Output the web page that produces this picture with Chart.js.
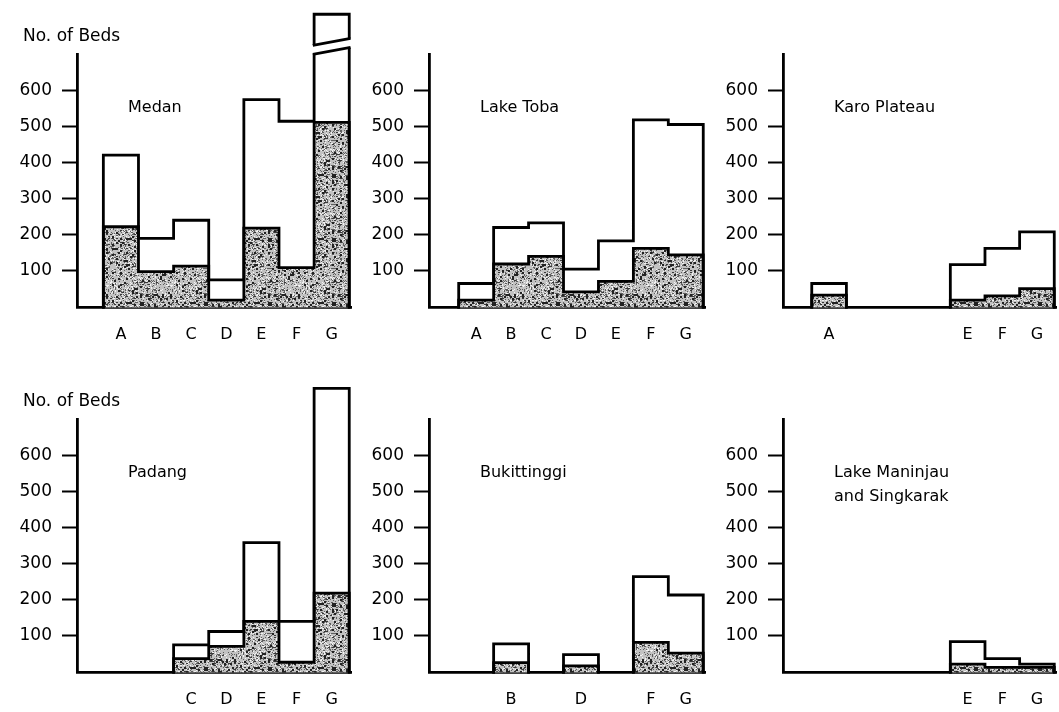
<!DOCTYPE html>
<html><head><meta charset="utf-8">
<script src="https://cdn.jsdelivr.net/npm/chart.js@4.4.1/dist/chart.umd.min.js"></script>
<style>
html,body{margin:0;padding:0;background:#fff;width:1059px;height:712px;overflow:hidden;position:relative}
canvas{position:absolute}
</style></head><body>
<script>
const categories = ['A','B','C','D','E','F','G'];
const yTickValues = [100,200,300,400,500,600];

const medanTotal    = [420, 190, 240, 75, 574, 514, 810];
const medanShaded   = [222, 98, 113, 19, 218, 109, 511];
const tobaTotal     = [65, 220, 233, 105, 183, 518, 505];
const tobaShaded    = [19, 119, 140, 42, 71, 162, 144];
const karoTotal     = [65, null, null, null, 117, 162, 208];
const karoShaded    = [33, null, null, null, 19, 31, 51];
const padangTotal   = [null, null, 75, 112, 358, 140, 785];
const padangShaded  = [null, null, 37, 71, 140, 27, 218];
const bukitTotal    = [null, 78, null, 48, null, 264, 213];
const bukitShaded   = [null, 26, null, 17, null, 82, 52];
const maninjauTotal = [null, null, null, null, 84, 37, 22];
const maninjauShaded= [null, null, null, null, 22, 13, 13];

const FONT = '"DejaVu Sans", sans-serif';
const cols = [{left:77,right:351,xMin:-1.25},{left:429,right:705,xMin:-1.35},{left:783,right:1056,xMin:-1.33}];
const rows = [{top:54,bottom:307},{top:419,bottom:672}];
const PADT = 50, AXW = 75, AXH = 45, PADR = 6;
const LW = 2.8;

const panels = [
  {title:['Medan'], total:medanTotal, shaded:medanShaded, col:0, row:0, yLabel:true, brk:true},
  {title:['Lake Toba'], total:tobaTotal, shaded:tobaShaded, col:1, row:0},
  {title:['Karo Plateau'], total:karoTotal, shaded:karoShaded, col:2, row:0},
  {title:['Padang'], total:padangTotal, shaded:padangShaded, col:0, row:1, yLabel:true},
  {title:['Bukittinggi'], total:bukitTotal, shaded:bukitShaded, col:1, row:1},
  {title:['Lake Maninjau','and Singkarak'], total:maninjauTotal, shaded:maninjauShaded, col:2, row:1}
];

function hash(x, y, s){
  let n = Math.imul(x, 374761393) + Math.imul(y, 668265263) + Math.imul(s, 2246822519);
  n = Math.imul(n ^ (n >>> 13), 1274126177);
  n = (n ^ (n >>> 16)) >>> 0;
  return (n % 1000) / 1000;
}
function makePattern(){
  const c = document.createElement('canvas');
  c.width = 64; c.height = 64;
  const g = c.getContext('2d');
  g.fillStyle = '#c2c2c2'; g.fillRect(0,0,64,64);
  for (let y=0;y<64;y++) for (let x=0;x<64;x++){
    const h = hash(x, y, 1);
    let col = null;
    if (h < 0.20) col = '#5e5e5e';
    else if (h > 0.88) col = '#f2f2f2';
    if (col){ g.fillStyle = col; g.fillRect(x,y,1,1); }
  }
  for (let y=0;y<64;y+=2) for (let x=0;x<64;x+=2){
    const h = hash(x, y, 7);
    if (h < 0.12){ g.fillStyle = '#222'; g.fillRect(x,y,2,2); }
    else if (h < 0.19){ g.fillStyle = '#383838'; g.fillRect(x,y,2,1); }
  }
  return g.createPattern(c, 'repeat');
}
const shadePattern = makePattern();

function barData(arr){
  const out = [];
  arr.forEach((v,i)=>{ if (v !== null) out.push({x:i, y:v}); });
  return out;
}
// step outline of each run of consecutive bars; runs are separated by a gap point
function outline(arr){
  const pts = [];
  let i = 0;
  while (i < arr.length){
    if (arr[i] === null){ i++; continue; }
    let j = i;
    while (j + 1 < arr.length && arr[j+1] !== null) j++;
    pts.push({x:i-0.5, y:0});
    for (let k=i;k<=j;k++) pts.push({x:k-0.5, y:arr[k]});
    pts.push({x:j+0.5, y:arr[j]});
    pts.push({x:j+0.5, y:0});
    pts.push({x:j+0.5, y:null});
    i = j + 1;
  }
  return pts;
}

const decorPlugin = {
  id:'decor',
  afterDatasetsDraw(chart){
    const p = chart.options.plugins.decor;
    if (!p.brk) return;
    const meta = chart.getDatasetMeta(3);
    const idx = chart.data.datasets[3].data.findIndex(d=>d.x===6);
    const el = meta.data[idx];
    const xL = el.x - el.width/2, xR = el.x + el.width/2;
    const ym = chart.scales.y.getPixelForValue(720);
    const ctx = chart.ctx;
    ctx.save();
    ctx.fillStyle = '#fff';
    ctx.beginPath();
    ctx.moveTo(xL-4, ym-1.5); ctx.lineTo(xR+4, ym-8.5);
    ctx.lineTo(xR+4, ym+0.5); ctx.lineTo(xL-4, ym+7.5); ctx.closePath();
    ctx.fill();
    ctx.strokeStyle = '#000'; ctx.lineWidth = LW;
    ctx.beginPath();
    ctx.moveTo(xL-1.3, ym-1.5); ctx.lineTo(xR+1.3, ym-8.5);
    ctx.moveTo(xL-1.3, ym+7.5); ctx.lineTo(xR+1.3, ym+0.5);
    ctx.stroke();
    ctx.restore();
  },
  afterDraw(chart){
    const p = chart.options.plugins.decor;
    const a = chart.chartArea, ctx = chart.ctx;
    ctx.save();
    ctx.fillStyle = '#000';
    ctx.textBaseline = 'middle';
    ctx.textAlign = 'left';
    ctx.font = '16px ' + FONT;
    p.title.forEach((t,i)=>ctx.fillText(t, a.left + 51, a.top + 54 + i*24));
    if (p.yLabel){
      ctx.font = '17px ' + FONT;
      ctx.fillText('No. of Beds', a.left - 54, a.top - 17);
    }
    ctx.restore();
  }
};

panels.forEach(pn=>{
  const col = cols[pn.col], row = rows[pn.row];
  const cv = document.createElement('canvas');
  const w = col.right - col.left + AXW + PADR;
  const h = row.bottom - row.top + PADT + AXH;
  cv.width = w; cv.height = h;
  cv.style.left = (col.left - AXW) + 'px';
  cv.style.top = (row.top - PADT) + 'px';
  cv.style.width = w + 'px'; cv.style.height = h + 'px';
  document.body.appendChild(cv);
  const present = [];
  pn.total.forEach((v,i)=>{ if (v !== null) present.push(i); });
  const lineBase = {type:'line', order:0, borderColor:'#000', borderWidth:LW, pointRadius:0,
    stepped:true, fill:false, clip:false, tension:0, spanGaps:false,
    borderJoinStyle:'miter', borderCapStyle:'square'};
  const barBase = {type:'bar', borderWidth:0, grouped:false, barPercentage:1, categoryPercentage:1, clip:false};
  new Chart(cv, {
    type:'bar',
    data:{datasets:[
      Object.assign({label:'total outline', data:outline(pn.total)}, lineBase),
      Object.assign({label:'shaded outline', data:outline(pn.shaded)}, lineBase),
      Object.assign({label:'shaded', data:barData(pn.shaded), order:1, backgroundColor:shadePattern}, barBase),
      Object.assign({label:'total', data:barData(pn.total), order:2, backgroundColor:'#ffffff'}, barBase)
    ]},
    options:{
      responsive:false, devicePixelRatio:1, animation:false,
      layout:{padding:{top:PADT, right:PADR, left:0, bottom:0}},
      plugins:{legend:{display:false}, tooltip:{enabled:false},
        decor:{title:pn.title, yLabel:!!pn.yLabel, brk:!!pn.brk}},
      scales:{
        x:{type:'linear', min:col.xMin, max:6.55, offset:false,
          grid:{display:true, drawOnChartArea:false, drawTicks:false, offset:false},
          border:{display:true, color:'#000', width:LW},
          ticks:{autoSkip:false, maxRotation:0, minRotation:0, padding:18, color:'#000',
            font:{family:FONT, size:16}, callback:(v)=>categories[v] ?? ''},
          afterBuildTicks:(s)=>{ s.ticks = present.map(i=>({value:i})); },
          afterFit:(s)=>{ s.height = AXH; }
        },
        y:{type:'linear', min:0, max:700,
          grid:{display:true, drawOnChartArea:false, drawTicks:true, tickLength:15, tickWidth:2, tickColor:'#000'},
          border:{display:true, color:'#000', width:LW},
          ticks:{padding:10, color:'#000', font:{family:FONT, size:17}, callback:(v)=>String(v)},
          afterBuildTicks:(s)=>{ s.ticks = yTickValues.map(v=>({value:v})); },
          afterFit:(s)=>{ s.width = AXW; }
        }
      }
    },
    plugins:[decorPlugin]
  });
});
</script>
</body></html>
